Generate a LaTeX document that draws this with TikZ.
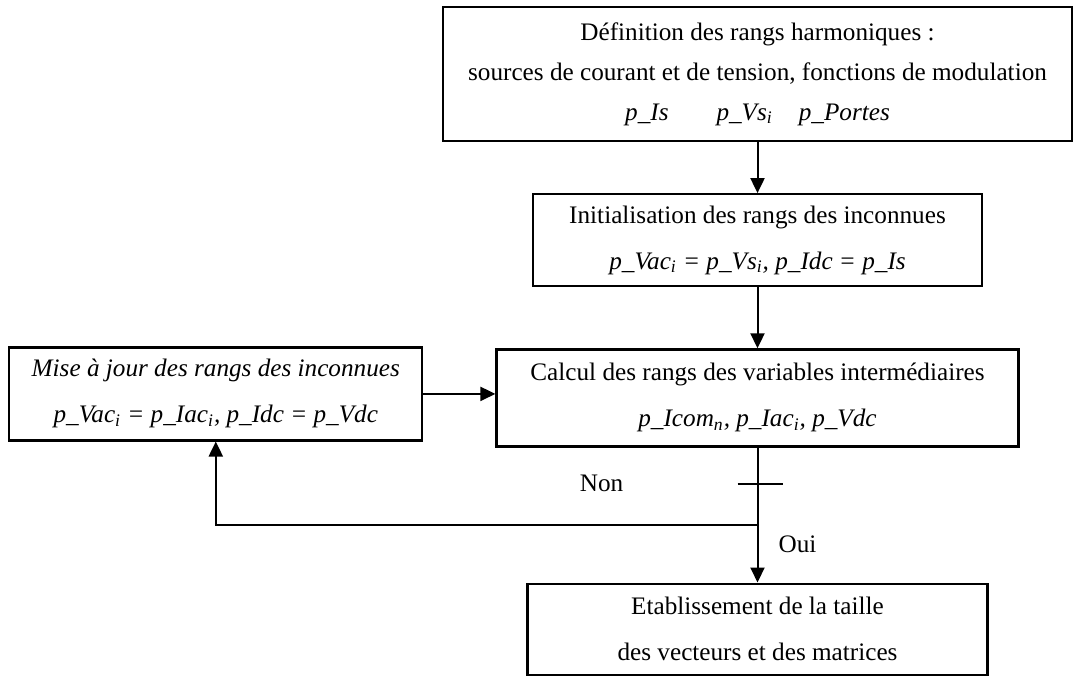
\documentclass[tikz,border=0pt]{standalone}
\usepackage{fontspec}
\setmainfont{Liberation Serif}
\usepackage{tikz}
\usetikzlibrary{arrows.meta, positioning}

\begin{document}
\begin{tikzpicture}[
  node distance=25.5pt and 36pt,
  box/.style={draw, line width=1.1pt, align=center, inner sep=2pt, font=\fontsize{12.6}{23}\selectfont},
  arrow/.style={-{Triangle[length=7.5pt, width=7pt]}, line width=1pt},
  line/.style={line width=1pt},
  label/.style={font=\fontsize{12.6}{14}\selectfont},
]
\useasboundingbox (0,0) rectangle (537pt,-337.5pt);

% Etapes
\node[box, minimum width=314.5pt, minimum height=67pt, font=\fontsize{12.6}{20}\selectfont] (def) at (378.75pt,-37pt) {Définition des rangs harmoniques :\\ sources de courant et de tension, fonctions de modulation\\ \textit{p\_Is}\hspace{24pt}\textit{p\_Vs\textsubscript{i}}\hspace{13pt}\textit{p\_Portes}};
\node[box, minimum width=224.5pt, minimum height=46pt, below=of def] (init) {Initialisation des rangs des inconnues\\ \textit{p\_Vac\textsubscript{i} = p\_Vs\textsubscript{i}, p\_Idc = p\_Is}};
\node[box, minimum width=261pt, minimum height=48.5pt, below=30.5pt of init] (calc) {Calcul des rangs des variables intermédiaires\\ \textit{p\_Icom\textsubscript{n}, p\_Iac\textsubscript{i}, p\_Vdc}};
\node[box, minimum width=206.5pt, minimum height=46.5pt, left=36pt of calc, yshift=2pt] (maj) {\textit{Mise à jour des rangs des inconnues}\\ \textit{p\_Vac\textsubscript{i} = p\_Iac\textsubscript{i}, p\_Idc = p\_Vdc}};
\node[box, minimum width=230pt, minimum height=45.5pt, below=67.5pt of calc] (etab) {Etablissement de la taille\\ des vecteurs et des matrices};

% Test
\coordinate[below=18pt of calc.south] (test);
\coordinate[below=38.5pt of calc.south] (fork);
\node[label] (non) at ([xshift=-78pt]test) {Non};
\node[label] (oui) at ([xshift=20pt, yshift=-10pt]fork) {Oui};

% Fleches
\draw[arrow] (def) -- (init);
\draw[arrow] (init) -- (calc);
\draw[arrow] (maj) -- (maj -| calc.west);
\draw[line] (calc) -- (fork);
\draw[line] ([xshift=-10pt]test) -- ([xshift=12.5pt]test);
\draw[arrow] (fork) -| (maj);
\draw[arrow] (fork) -- (etab);

\end{tikzpicture}
\end{document}
